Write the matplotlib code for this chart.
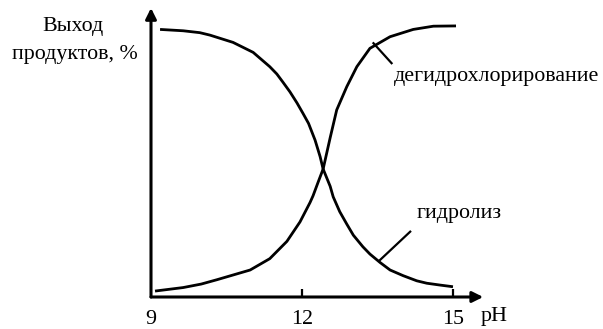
import matplotlib
matplotlib.use("Agg")
import matplotlib.pyplot as plt

# pH values and yields (%)
ph_hydrolysis = [9.18, 9.64, 9.97, 10.17, 10.63, 11.03, 11.36, 11.50, 11.62, 11.76,
                 11.90, 12.02, 12.13, 12.26, 12.36, 12.42, 12.56, 12.62, 12.75, 12.89,
                 13.02, 13.21, 13.35, 13.55, 13.75, 14.01, 14.28, 14.48, 14.75, 15.00]
yield_hydrolysis = [99.1, 98.6, 97.9, 97.0, 94.3, 90.6, 85.3, 82.6, 79.6, 76.0,
                    71.9, 68.0, 64.3, 58.1, 52.0, 47.4, 41.0, 37.1, 31.6, 27.0,
                    22.9, 18.6, 15.9, 12.8, 10.0, 7.9, 6.0, 5.1, 4.4, 3.8]

ph_dehydro = [9.08, 9.64, 10.00, 10.31, 10.97, 11.36, 11.70, 11.96, 12.16, 12.22,
              12.32, 12.42, 12.56, 12.69, 12.89, 13.09, 13.35, 13.75, 14.21, 14.61, 15.06]
yield_dehydro = [2.2, 3.5, 4.8, 6.4, 10.0, 14.2, 20.6, 27.8, 35.0, 37.5,
                 42.5, 47.4, 59.0, 69.3, 77.9, 85.3, 92.1, 96.4, 99.1, 100.3, 100.4]

xticks = [9, 12, 15]
xtick_labels = ["9", "12", "15"]

label_dehydro = "дегидрохлорирование"
label_hydro = "гидролиз"
ylabel_lines = ["Выход", "продуктов, %"]
xlabel_text = "pH"

W, H = 603, 329
fig = plt.figure(figsize=(W / 100, H / 100), dpi=100)
fig.patch.set_facecolor("white")
serif = ["Liberation Serif", "DejaVu Serif"]
fs = 15.8

# axes placement (pixels)
left_px, right_px, bottom_px, top_px = 151, 490, 297, 8
ax = fig.add_axes([left_px / W, 1 - bottom_px / H, (right_px - left_px) / W, (bottom_px - top_px) / H])
ax.set_xlim(9, 9 + (right_px - left_px) / 50.33)
ax.set_ylim(0, (bottom_px - top_px) / 2.7)
for s in ax.spines.values():
    s.set_visible(False)
ax.set_facecolor("none")

lw = 2.0
for xs, ys in [(ph_hydrolysis, yield_hydrolysis), (ph_dehydro, yield_dehydro)]:
    ax.plot(xs, ys, color="black", lw=lw, solid_capstyle="butt", solid_joinstyle="round")

# axes arrows
ax.annotate("", xy=(9, ax.get_ylim()[1]), xytext=(9, 0),
            arrowprops=dict(arrowstyle="-|>", lw=2.2, color="black", mutation_scale=16, shrinkA=0, shrinkB=0))
ax.annotate("", xy=(15.6, 0), xytext=(9, 0),
            arrowprops=dict(arrowstyle="-|>", lw=2.2, color="black", mutation_scale=16, shrinkA=0, shrinkB=0))

ax.set_xticks(xticks)
ax.set_xticklabels(xtick_labels, fontfamily=serif, fontsize=fs)
ax.tick_params(axis="x", direction="in", length=6, width=1.6, pad=9)
ax.set_yticks([])
ax.get_xticklines()[0].set_visible(False)

# leader lines
ax.plot([13.42, 13.78], [94.0, 86.6], color="black", lw=1.6)
ax.plot([13.55, 14.15], [13.7, 24.2], color="black", lw=1.6)

ax.text(13.82, 81.5, label_dehydro, fontfamily=serif, fontsize=fs, ha="left", va="center")
ax.text(14.28, 31.1, label_hydro, fontfamily=serif, fontsize=fs, ha="left", va="center")

fig.text(73 / W, 1 - 26 / H, ylabel_lines[0], fontfamily=serif, fontsize=fs, ha="center", va="center")
fig.text(75 / W, 1 - 54 / H, ylabel_lines[1], fontfamily=serif, fontsize=fs, ha="center", va="center")
fig.text(481 / W, 1 - 317 / H, xlabel_text, fontfamily=serif, fontsize=fs, ha="left", va="center")

fig.savefig("out.png", dpi=100)
